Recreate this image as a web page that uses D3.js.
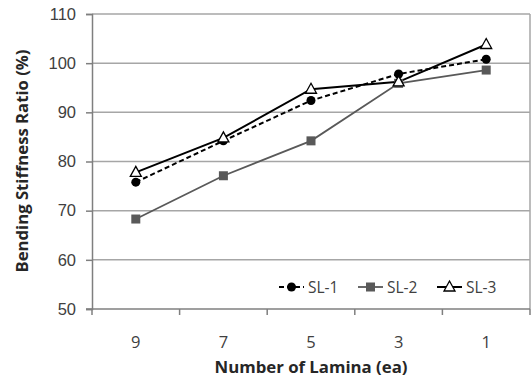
<!DOCTYPE html>
<html>
<head>
<meta charset="utf-8">
<script src="https://cdn.jsdelivr.net/npm/d3@7"></script>
<style>
  body { margin: 0; background: #fff; }
  svg { font-family: "Open Sans", "Liberation Sans", sans-serif; }
</style>
</head>
<body>
<div id="chart"></div>
<script>
  var categories = ["9", "7", "5", "3", "1"];
  var sl1 = [75.8, 84.2, 92.4, 97.8, 100.8];
  var sl2 = [68.3, 77.1, 84.2, 95.9, 98.6];
  var sl3 = [77.8, 84.8, 94.7, 96.2, 103.8];
  var yTicks = [50, 60, 70, 80, 90, 100, 110];

  var width = 531, height = 378;
  var margin = {top: 14, right: 1, bottom: 69, left: 92};

  var svg = d3.select("#chart").append("svg")
    .attr("width", width)
    .attr("height", height);

  var x = d3.scaleBand()
    .domain(categories)
    .range([margin.left, width - margin.right]);

  var y = d3.scaleLinear()
    .domain([50, 110])
    .range([height - margin.bottom, margin.top]);

  // grid lines
  svg.append("g")
    .selectAll("line")
    .data(yTicks.slice(1))
    .enter().append("line")
    .attr("x1", margin.left)
    .attr("x2", width - margin.right)
    .attr("y1", function(d) { return y(d); })
    .attr("y2", function(d) { return y(d); })
    .attr("stroke", "#a6a6a6")
    .attr("stroke-width", 1.5);

  // right border
  svg.append("line")
    .attr("x1", width - margin.right).attr("x2", width - margin.right)
    .attr("y1", margin.top).attr("y2", height - margin.bottom)
    .attr("stroke", "#a6a6a6")
    .attr("stroke-width", 1.5);

  // y axis
  var yAxis = svg.append("g")
    .attr("transform", "translate(" + margin.left + ",0)")
    .call(d3.axisLeft(y).tickValues(yTicks).tickSize(6).tickPadding(10));
  yAxis.select(".domain").attr("stroke", "#7f7f7f").attr("stroke-width", 1.5);
  yAxis.selectAll(".tick line").attr("stroke", "#7f7f7f").attr("stroke-width", 1.5);
  yAxis.selectAll("text").attr("font-size", 16.5).attr("fill", "#404040");

  // x axis with ticks between categories
  var xAxisG = svg.append("g")
    .attr("transform", "translate(0," + (height - margin.bottom) + ")");
  xAxisG.append("line")
    .attr("x1", margin.left - 6).attr("x2", width - margin.right)
    .attr("stroke", "#7f7f7f").attr("stroke-width", 1.5);
  var bounds = categories.map(function(c) { return x(c); });
  bounds.push(x(categories[categories.length - 1]) + x.bandwidth());
  xAxisG.selectAll("line.tk")
    .data(bounds)
    .enter().append("line")
    .attr("class", "tk")
    .attr("x1", function(d) { return d; })
    .attr("x2", function(d) { return d; })
    .attr("y1", 0).attr("y2", 6)
    .attr("stroke", "#7f7f7f").attr("stroke-width", 1.5);
  xAxisG.selectAll("text")
    .data(categories)
    .enter().append("text")
    .attr("x", function(d) { return x(d) + x.bandwidth() / 2; })
    .attr("y", 39)
    .attr("text-anchor", "middle")
    .attr("font-size", 16.5)
    .attr("fill", "#404040")
    .text(function(d) { return d; });

  // axis titles
  svg.append("text")
    .attr("x", 311)
    .attr("y", 373)
    .attr("text-anchor", "middle")
    .attr("font-size", 16)
    .attr("font-weight", "bold")
    .attr("fill", "#262626")
    .attr("textLength", 193)
    .attr("lengthAdjust", "spacingAndGlyphs")
    .text("Number of Lamina (ea)");

  svg.append("text")
    .attr("transform", "translate(28,161) rotate(-90)")
    .attr("text-anchor", "middle")
    .attr("font-size", 16)
    .attr("font-weight", "bold")
    .attr("fill", "#262626")
    .attr("textLength", 223)
    .attr("lengthAdjust", "spacingAndGlyphs")
    .text("Bending Stiffness Ratio (%)");

  var cx = function(i) { return x(categories[i]) + x.bandwidth() / 2; };
  var line = d3.line()
    .x(function(d, i) { return cx(i); })
    .y(function(d) { return y(d); });

  var series = [
    {name: "SL-1", values: sl1, color: "#000", width: 2, dash: "5,3", marker: "circle"},
    {name: "SL-2", values: sl2, color: "#595959", width: 1.8, dash: null, marker: "square"},
    {name: "SL-3", values: sl3, color: "#000", width: 2, dash: null, marker: "triangle"}
  ];

  function drawMarker(g, type, px, py) {
    if (type == "circle") {
      g.append("circle").attr("cx", px).attr("cy", py).attr("r", 4.5).attr("fill", "#000");
    } else if (type == "square") {
      g.append("rect").attr("x", px - 4.5).attr("y", py - 4.5).attr("width", 9).attr("height", 9)
        .attr("fill", "#595959");
    } else {
      g.append("path")
        .attr("d", "M" + px + "," + (py - 6) + "L" + (px + 5.5) + "," + (py + 4) + "L" + (px - 5.5) + "," + (py + 4) + "Z")
        .attr("fill", "#fff").attr("stroke", "#000").attr("stroke-width", 1.3);
    }
  }

  series.forEach(function(s) {
    svg.append("path")
      .datum(s.values)
      .attr("d", line)
      .attr("fill", "none")
      .attr("stroke", s.color)
      .attr("stroke-width", s.width)
      .attr("stroke-dasharray", s.dash);
  });

  series.forEach(function(s) {
    var g = svg.append("g");
    s.values.forEach(function(v, i) {
      drawMarker(g, s.marker, cx(i), y(v));
    });
  });

  // legend
  var legendX = [279, 358, 437];
  var legendY = 287;
  series.forEach(function(s, i) {
    var g = svg.append("g");
    var lx = legendX[i];
    g.append("line")
      .attr("x1", lx).attr("x2", lx + 25)
      .attr("y1", legendY).attr("y2", legendY)
      .attr("stroke", s.color)
      .attr("stroke-width", s.width)
      .attr("stroke-dasharray", s.dash);
    drawMarker(g, s.marker, lx + 12.5, legendY);
    g.append("text")
      .attr("x", lx + 29)
      .attr("y", legendY + 5.5)
      .attr("font-size", 15.5)
      .attr("fill", "#404040")
      .text(s.name);
  });
</script>
</body>
</html>
